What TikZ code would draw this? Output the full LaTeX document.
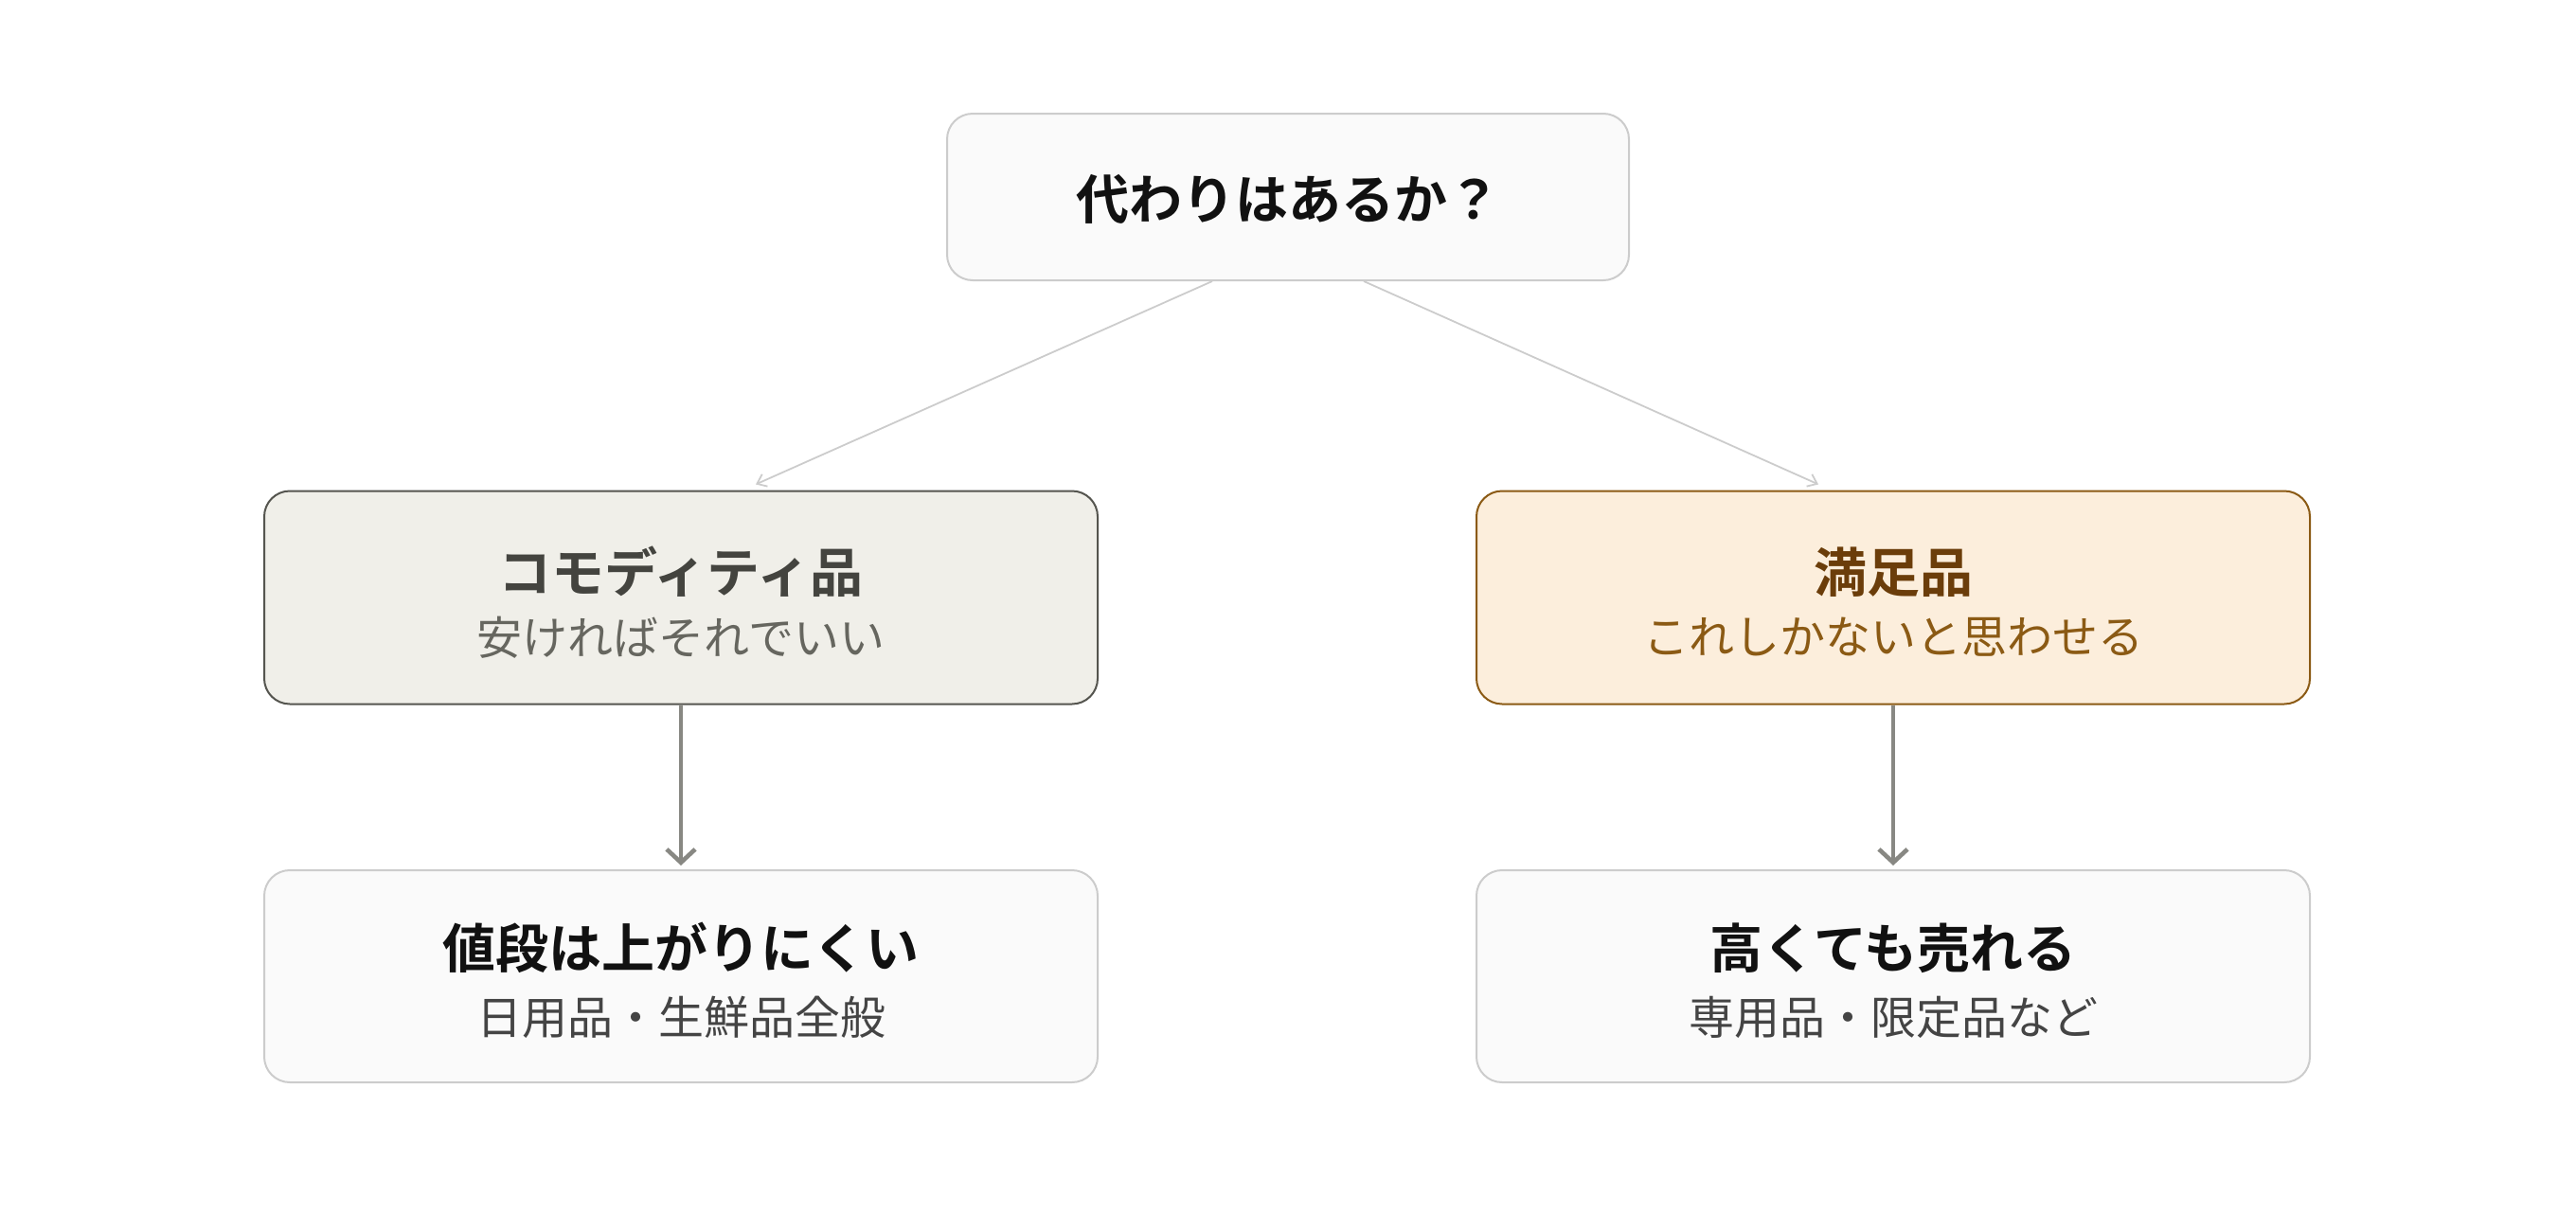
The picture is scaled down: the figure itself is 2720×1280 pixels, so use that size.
\documentclass[tikz,border=0pt]{standalone}
\usepackage{fontspec}
\newfontfamily\jp{Noto Sans CJK JP}
\newfontfamily\jpb{Noto Sans CJK JP Bold}
\usetikzlibrary{arrows.meta,calc}
\definecolor{neutralfill}{HTML}{FAFAFA}
\definecolor{neutralline}{HTML}{CCCCCC}
\definecolor{comfill}{HTML}{F0EFE9}
\definecolor{comline}{HTML}{55554F}
\definecolor{comtitle}{HTML}{44443F}
\definecolor{comsub}{HTML}{66665F}
\definecolor{satfill}{HTML}{FCEEDC}
\definecolor{satline}{HTML}{8B5A14}
\definecolor{sattitle}{HTML}{6B3D0A}
\definecolor{satsub}{HTML}{8B5A14}
\definecolor{thinarrow}{HTML}{CCCCCC}
\definecolor{thickarrow}{HTML}{888883}
\definecolor{ttitle}{HTML}{111111}
\definecolor{tsub}{HTML}{444444}
\tikzset{
  box/.style={rectangle, rounded corners=27pt, line width=2pt, inner sep=0pt},
  neutralbox/.style={box, draw=neutralline, fill=neutralfill},
  combox/.style={box, draw=comline, fill=comfill},
  satbox/.style={box, draw=satline, fill=satfill},
  titletext/.style={font=\jpb\fontsize{56pt}{62pt}\selectfont, inner sep=0pt},
  subtext/.style={font=\jp\fontsize{48pt}{54pt}\selectfont, inner sep=0pt},
  thinconn/.style={draw=thinarrow, line width=1.8pt, -{Straight Barb[length=9pt,width=14pt,line width=1.8pt]}},
  thickconn/.style={draw=thickarrow, line width=4.6pt, -{Straight Barb[length=14pt,width=30pt,line width=4.6pt]}}
}
\begin{document}
\begin{tikzpicture}[x=1pt,y=-1pt]
\useasboundingbox (0,0) rectangle (2720,1280);
\node[neutralbox, minimum width=720pt, minimum height=176pt] (top) at (1360,208) {};
\node[combox, minimum width=880pt, minimum height=225pt] (com) at (719,631) {};
\node[satbox, minimum width=880pt, minimum height=225pt] (sat) at (1999,631) {};
\node[neutralbox, minimum width=880pt, minimum height=224pt] (low) at (719,1031) {};
\node[neutralbox, minimum width=880pt, minimum height=224pt] (high) at (1999,1031) {};

\node[titletext, text=ttitle] (toptitle) at (1360,210) {代わりはあるか？};
\node[titletext, text=comtitle] (comtitle) at (719,604) {コモディティ品};
\node[subtext, text=comsub] (comsub) at (719,673) {安ければそれでいい};
\node[titletext, text=sattitle] (sattitle) at (1999,604) {満足品};
\node[subtext, text=satsub] (satsub) at (1999,673) {これしかないと思わせる};
\node[titletext, text=ttitle] (lowtitle) at (719,1001) {値段は上がりにくい};
\node[subtext, text=tsub] (lowsub) at (719,1074) {日用品・生鮮品全般};
\node[titletext, text=ttitle] (hightitle) at (1999,1001) {高くても売れる};
\node[subtext, text=tsub] (highsub) at (1999,1074) {専用品・限定品など};

\coordinate (ls) at ($(top.south)+(-80,0)$);
\coordinate (rs) at ($(top.south)+(80,0)$);
\coordinate (le) at ($(com.north)+(79,-6)$);
\coordinate (re) at ($(sat.north)+(-79,-6)$);
\draw[thinconn] (ls) -- (le);
\draw[thinconn] (rs) -- (re);
\draw[thickconn] (com.south) -- ($(low.north)+(0,-4)$);
\draw[thickconn] (sat.south) -- ($(high.north)+(0,-4)$);
\end{tikzpicture}
\end{document}
